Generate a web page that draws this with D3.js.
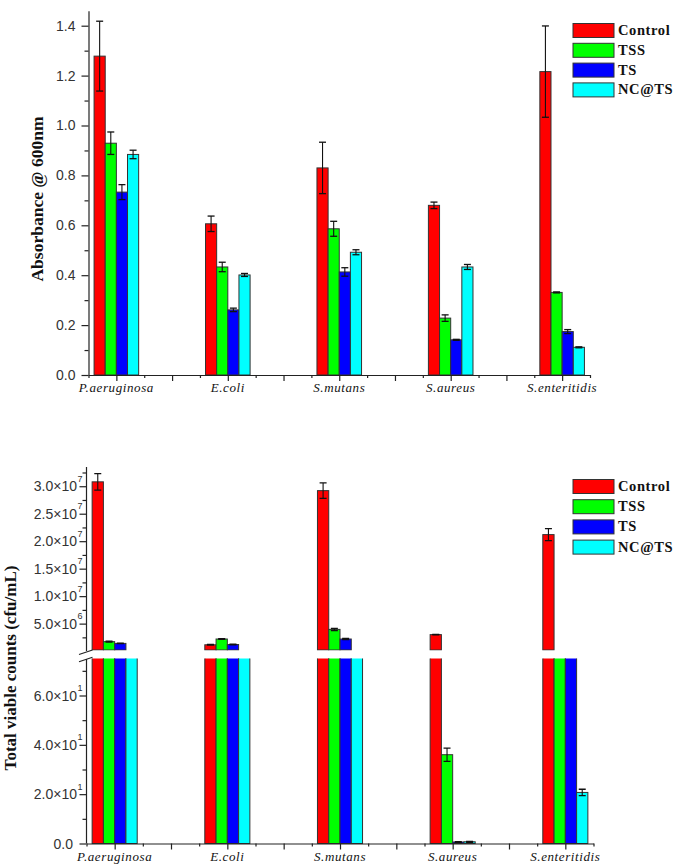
<!DOCTYPE html>
<html><head><meta charset="utf-8">
<script src="https://cdn.jsdelivr.net/npm/d3@7/dist/d3.min.js"></script>
<style>
html,body{margin:0;padding:0;background:#fff;}
svg{display:block;}
</style></head>
<body>
<script>
// ---------- data ----------
const categories = ["P.aeruginosa", "E.coli", "S.mutans", "S.aureus", "S.enteritidis"];
const seriesNames = ["Control", "TSS", "TS", "NC@TS"];
const seriesColors = ["#ff0000", "#00ff00", "#0000ff", "#00ffff"];

// Absorbance @ 600nm
const absControl = [1.278, 0.606, 0.830, 0.680, 1.216];
const absControlErr = [0.140, 0.031, 0.103, 0.013, 0.183];
const absTSS = [0.929, 0.433, 0.586, 0.228, 0.331];
const absTSSErr = [0.045, 0.019, 0.030, 0.013, 0.002];
const absTS = [0.733, 0.261, 0.413, 0.141, 0.174];
const absTSErr = [0.030, 0.007, 0.017, 0.002, 0.008];
const absNC = [0.884, 0.401, 0.492, 0.433, 0.111];
const absNCErr = [0.017, 0.006, 0.010, 0.010, 0.002];

// Total viable counts (cfu/mL)
const cfuControl = [3.08e7, 1.15e6, 2.92e7, 3.0e6, 2.12e7];
const cfuControlErr = [1.5e6, 0.06e6, 1.4e6, 0.05e6, 1.1e6];
const cfuTSS = [1.72e6, 2.2e6, 3.95e6, 36, 1.0e5];
const cfuTSSErr = [0.08e6, 0.08e6, 0.2e6, 2.7, 0];
const cfuTS = [1.4e6, 1.2e6, 2.2e6, 0.6, 1.0e5];
const cfuTSErr = [0.05e6, 0.05e6, 0.1e6, 0.2, 0];
const cfuNC = [2.0e5, 1.0e5, 2.0e5, 0.7, 20.7];
const cfuNCErr = [0, 0, 0, 0.2, 1.3];

const absTicks = [0, 0.2, 0.4, 0.6, 0.8, 1.0, 1.2, 1.4];
const absMinorTicks = [0.1, 0.3, 0.5, 0.7, 0.9, 1.1, 1.3];
const cfuUpperTicks = [5e6, 1e7, 1.5e7, 2e7, 2.5e7, 3e7];
const cfuUpperLabels = [["5.0×10", "6"], ["1.0×10", "7"], ["1.5×10", "7"], ["2.0×10", "7"], ["2.5×10", "7"], ["3.0×10", "7"]];
const cfuUpperMinor = [2.5e6, 7.5e6, 1.25e7, 1.75e7, 2.25e7, 2.75e7, 3.25e7];
const cfuLowerTicks = [0, 20, 40, 60];
const cfuLowerLabels = [["0.0", ""], ["2.0×10", "1"], ["4.0×10", "1"], ["6.0×10", "1"]];
const cfuLowerMinor = [10, 30, 50, 70];

// ---------- drawing ----------
const W = 675, H = 866;
const svg = d3.select("body").append("svg").attr("width", W).attr("height", H);
const SANS = "'Liberation Sans', Arial, sans-serif";
const SERIF = "'Liberation Serif', 'Times New Roman', serif";
const AX = "#222";

function xTicks(g, x, yAxis) {
  const majors = d3.range(0, 4.01, 0.5);
  const minors = d3.range(-0.25, 4.3, 0.5);
  g.append("g").attr("transform", `translate(0,${yAxis})`)
    .call(d3.axisBottom(x).tickValues(majors).tickSize(6).tickSizeOuter(0).tickFormat(""))
    .call(s => { s.select(".domain").attr("stroke", AX).attr("stroke-width", 1.2); s.selectAll("line").attr("stroke", AX).attr("stroke-width", 1.2); });
  g.append("g").attr("transform", `translate(0,${yAxis})`)
    .call(d3.axisBottom(x).tickValues(minors).tickSize(3).tickSizeOuter(0).tickFormat(""))
    .call(s => { s.select(".domain").remove(); s.selectAll("line").attr("stroke", AX).attr("stroke-width", 1.2); });
  g.selectAll(".cat").data(categories).join("text")
    .attr("x", (d, i) => x(i)).attr("y", yAxis + 17)
    .attr("text-anchor", "middle").attr("font-family", SERIF).attr("font-style", "italic")
    .attr("font-size", 13).attr("letter-spacing", 0.6).attr("fill", "#111").text(d => d);
}

function legend(g, x0, y0, step) {
  seriesNames.forEach((n, j) => {
    g.append("rect").attr("x", x0).attr("y", y0 + j * step).attr("width", 41).attr("height", 14)
      .attr("fill", seriesColors[j]).attr("stroke", "#333").attr("stroke-width", 1);
    g.append("text").attr("x", x0 + 45).attr("y", y0 + j * step + 11.5)
      .attr("font-family", SERIF).attr("font-weight", "bold").attr("font-size", 14.5)
      .attr("letter-spacing", 0.6).attr("fill", "#111").text(n);
  });
}

function errBar(g, cx, yTop, yBot) {
  g.append("line").attr("x1", cx).attr("x2", cx).attr("y1", yTop).attr("y2", yBot).attr("stroke", "#111").attr("stroke-width", 1.1);
  [yTop, yBot].forEach(yy => g.append("line").attr("x1", cx - 3.5).attr("x2", cx + 3.5).attr("y1", yy).attr("y2", yy).attr("stroke", "#111").attr("stroke-width", 1.3));
}

// ===== Top chart =====
{
  const g = svg.append("g");
  const x = d3.scaleLinear().domain([-0.25, 4.25]).range([88.5, 590]);
  const y = d3.scaleLinear().domain([0, 1.46]).range([375, 375 - 1.46 * 249.5]);
  const vals = [absControl, absTSS, absTS, absNC];
  const errs = [absControlErr, absTSSErr, absTSErr, absNCErr];
  const bw = x(0.1) - x(0);
  vals.forEach((arr, j) => {
    arr.forEach((v, i) => {
      const x0 = x(i - 0.2 + j * 0.1);
      g.append("rect").attr("x", x0).attr("y", y(v)).attr("width", bw).attr("height", y(0) - y(v))
        .attr("fill", seriesColors[j]).attr("stroke", "#333").attr("stroke-width", 1);
      const e = errs[j][i];
      if (e > 0) errBar(g, x0 + bw / 2, y(v + e), y(v - e));
    });
  });
  g.append("g").attr("transform", "translate(88.5,0)")
    .call(d3.axisLeft(y).tickValues(absTicks).tickSize(7).tickSizeOuter(0).tickPadding(6).tickFormat(d3.format(".1f")))
    .call(s => {
      s.select(".domain").attr("stroke", AX).attr("stroke-width", 1.2);
      s.selectAll("line").attr("stroke", AX).attr("stroke-width", 1.2);
      s.selectAll("text").attr("font-family", SANS).attr("font-size", 14).attr("fill", "#333");
    });
  g.append("g").attr("transform", "translate(88.5,0)")
    .call(d3.axisLeft(y).tickValues(absMinorTicks).tickSize(4).tickSizeOuter(0).tickFormat(""))
    .call(s => { s.select(".domain").remove(); s.selectAll("line").attr("stroke", AX).attr("stroke-width", 1.2); });
  xTicks(g, x, 375);
  g.append("text").attr("transform", "translate(43,199) rotate(-90)").attr("text-anchor", "middle")
    .attr("font-family", SERIF).attr("font-weight", "bold").attr("font-size", 17.5).attr("fill", "#111")
    .text("Absorbance @ 600nm");
  legend(g, 573, 23.5, 19.8);
}

// ===== Bottom chart (broken axis) =====
{
  const g = svg.append("g");
  const axX = 86.5;
  const x = d3.scaleLinear().domain([-0.25, 4.25]).range([axX, 593.5]);
  const yU = d3.scaleLinear().domain([2e5, 3.35e7]).range([650, 467]);
  const yL = d3.scaleLinear().domain([0, 75]).range([843.5, 658.5]);
  const defs = svg.append("defs");
  defs.append("clipPath").attr("id", "clipU").append("rect").attr("x", 0).attr("y", 460).attr("width", W).attr("height", 650.6 - 460);
  defs.append("clipPath").attr("id", "clipL").append("rect").attr("x", 0).attr("y", 658.5).attr("width", W).attr("height", 190);
  const gU = g.append("g").attr("clip-path", "url(#clipU)");
  const gL = g.append("g").attr("clip-path", "url(#clipL)");
  const vals = [cfuControl, cfuTSS, cfuTS, cfuNC];
  const errs = [cfuControlErr, cfuTSSErr, cfuTSErr, cfuNCErr];
  const bw = x(0.1) - x(0);
  vals.forEach((arr, j) => {
    arr.forEach((v, i) => {
      const x0 = x(i - 0.2 + j * 0.1);
      const e = errs[j][i];
      // lower segment
      const topL = yL(Math.min(v, 80));
      gL.append("rect").attr("x", x0).attr("y", topL).attr("width", bw).attr("height", yL(0) - topL)
        .attr("fill", seriesColors[j]).attr("stroke", "#333").attr("stroke-width", 1);
      if (v <= 75 && e > 0) errBar(gL, x0 + bw / 2, yL(v + e), yL(v - e));
      // upper segment
      if (v >= yU.domain()[0]) {
        gU.append("rect").attr("x", x0).attr("y", yU(v)).attr("width", bw).attr("height", yU.range()[0] - yU(v))
          .attr("fill", seriesColors[j]).attr("stroke", "#333").attr("stroke-width", 1);
        if (e > 0) errBar(gU, x0 + bw / 2, yU(v + e), yU(v - e));
      }
    });
  });
  // axis lines
  g.append("line").attr("x1", axX).attr("x2", axX).attr("y1", 467).attr("y2", 651).attr("stroke", AX).attr("stroke-width", 1.2);
  g.append("line").attr("x1", axX).attr("x2", axX).attr("y1", 659).attr("y2", 843.5).attr("stroke", AX).attr("stroke-width", 1.2);
  // break marks
  [[79, 654.5, 92.5, 650], [79, 661.8, 92.5, 657.3]].forEach(p =>
    g.append("line").attr("x1", p[0]).attr("y1", p[1]).attr("x2", p[2]).attr("y2", p[3]).attr("stroke", AX).attr("stroke-width", 1.2));
  function yTicks(scale, major, minor, labels) {
    g.append("g").attr("transform", `translate(${axX},0)`)
      .call(d3.axisLeft(scale).tickValues(major).tickSize(7).tickFormat(""))
      .call(s => { s.select(".domain").remove(); s.selectAll("line").attr("stroke", AX).attr("stroke-width", 1.2); });
    g.append("g").attr("transform", `translate(${axX},0)`)
      .call(d3.axisLeft(scale).tickValues(minor).tickSize(4).tickFormat(""))
      .call(s => { s.select(".domain").remove(); s.selectAll("line").attr("stroke", AX).attr("stroke-width", 1.2); });
    major.forEach((t, k) => {
      const [base, sup] = labels[k];
      const xe = sup ? axX - 9.5 : axX - 13.5;
      g.append("text").attr("x", xe).attr("y", scale(t)).attr("dy", "0.36em").attr("text-anchor", "end")
        .attr("font-family", SANS).attr("font-size", 14).attr("fill", "#333").text(base);
      if (sup) g.append("text").attr("x", xe + 0.5).attr("y", scale(t) - 4.5).attr("text-anchor", "start")
        .attr("font-family", SANS).attr("font-size", 9).attr("fill", "#333").text(sup);
    });
  }
  yTicks(yU, cfuUpperTicks, cfuUpperMinor, cfuUpperLabels);
  yTicks(yL, cfuLowerTicks, cfuLowerMinor, cfuLowerLabels);
  xTicks(g, x, 843.5);
  g.append("text").attr("transform", "translate(15.5,668) rotate(-90)").attr("text-anchor", "middle")
    .attr("font-family", SERIF).attr("font-weight", "bold").attr("font-size", 17).attr("fill", "#111")
    .text("Total viable counts (cfu/mL)");
  legend(g, 573, 479.5, 20.2);
}
</script>
</body></html>
